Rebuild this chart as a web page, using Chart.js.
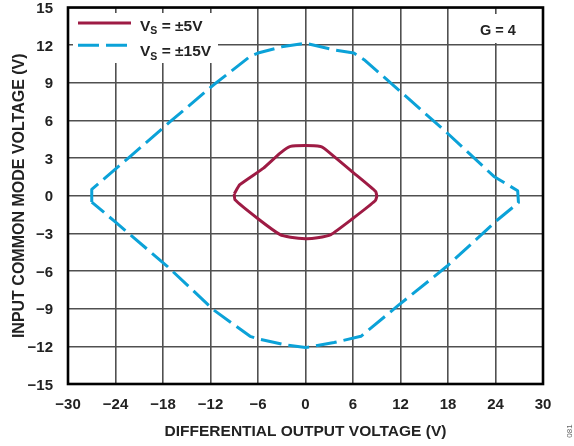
<!DOCTYPE html>
<html><head><meta charset="utf-8">
<script src="https://cdn.jsdelivr.net/npm/chart.js@4"></script>
<style>html,body{margin:0;padding:0;background:#fff;}canvas{display:block;}</style>
</head><body>
<canvas id="c" width="574" height="446"></canvas>
<script>
// ---- data ----
const xTicks = [-30, -24, -18, -12, -6, 0, 6, 12, 18, 24, 30];
const xTickLabels = ['\u221230', '\u221224', '\u221218', '\u221212', '\u22126', '0', '6', '12', '18', '24', '30'];
const yTicks = [-15, -12, -9, -6, -3, 0, 3, 6, 9, 12, 15];
const yTickLabels = ['\u221215', '\u221212', '\u22129', '\u22126', '\u22123', '0', '3', '6', '9', '12', '15'];

const seriesNames = ['\u00b15V', '\u00b115V'];

// VS = ±15V (closed contour)
const vs15X = [-27.0, -27.0, -22.2, -17.1, -11.6, -7.0, -6.0, -2.8, 0, 3.6, 6.1, 7.4, 12.0, 17.9, 23.8, 26.8, 26.9, 24.2, 17.9, 11.6, 7.0, 3.6, 0, -2.4, -6.0, -7.0, -11.6, -17.5, -24.1, -27.0];
const vs15Y = [-0.5, 0.5, 3.1, 5.9, 8.84, 11.1, 11.37, 11.9, 12.15, 11.63, 11.37, 10.84, 8.3, 5.0, 1.54, 0.4, -0.55, -1.95, -5.6, -8.8, -11.2, -11.7, -12.1, -11.9, -11.4, -11.2, -9.1, -5.6, -2.05, -0.5];

// VS = ±5V (closed contour)
const vs5X = [-9.0, -8.3, -5.3, -3.2, -1.9, 0, 1.9, 2.4, 6.0, 8.86, 9.0, 8.8, 5.9, 3.2, 1.5, 0, -1.9, -3.2, -5.96, -8.9, -9.0];
const vs5Y = [0.15, 0.88, 2.2, 3.4, 3.93, 4.0, 3.93, 3.75, 1.86, 0.34, -0.05, -0.4, -1.85, -3.1, -3.35, -3.42, -3.3, -3.1, -1.85, -0.32, 0.15];

const RED = '#9e1b44';
const BLUE = '#0ba2d8';
const FONT = '"Liberation Sans", Arial, Helvetica, sans-serif';

const toPts = (xs, ys) => xs.map((x, i) => ({x, y: ys[i]}));

const decorPlugin = {
  id: 'decor',
  beforeDatasetsDraw(chart) {
    const {ctx, chartArea: a} = chart;
    ctx.save();
    // legend background boxes
    ctx.fillStyle = '#fff';
    ctx.fillRect(a.left + 5, a.top + 5.5, 145, 50);
    ctx.fillRect(a.right - 67, a.top + 6.5, 44, 29);
    // legend samples
    ctx.lineWidth = 3;
    ctx.lineCap = 'butt';
    ctx.strokeStyle = RED;
    ctx.beginPath(); ctx.moveTo(a.left + 10, a.top + 15.5); ctx.lineTo(a.left + 63, a.top + 15.5); ctx.stroke();
    ctx.strokeStyle = BLUE;
    ctx.setLineDash([21, 7]);
    ctx.beginPath(); ctx.moveTo(a.left + 10, a.top + 37.8); ctx.lineTo(a.left + 60, a.top + 37.8); ctx.stroke();
    ctx.setLineDash([]);
    // legend text with subscript
    ctx.fillStyle = '#222';
    ctx.textBaseline = 'alphabetic';
    ctx.textAlign = 'left';
    const rows = [a.top + 23.2, a.top + 48.8];
    rows.forEach((by, i) => {
      let x = a.left + 72;
      ctx.font = 'bold 15.5px ' + FONT;
      ctx.fillText('V', x, by);
      x += ctx.measureText('V').width;
      ctx.font = 'bold 10.5px ' + FONT;
      ctx.fillText('S', x, by + 3.5);
      x += ctx.measureText('S').width;
      ctx.font = 'bold 15.5px ' + FONT;
      ctx.fillText(' = ' + seriesNames[i], x, by);
    });
    // G = 4
    ctx.font = 'bold 14.5px ' + FONT;
    ctx.textAlign = 'center';
    ctx.fillText('G = 4', a.right - 45, a.top + 27.2);
    ctx.restore();
  },
  afterDatasetsDraw(chart) {
    const {ctx, chartArea: a} = chart;
    ctx.save();
    ctx.strokeStyle = '#000';
    ctx.lineWidth = 2.6;
    ctx.strokeRect(a.left, a.top, a.right - a.left, a.bottom - a.top);
    // figure id
    ctx.translate(chart.width - 4, chart.height - 15);
    ctx.rotate(-Math.PI / 2);
    ctx.font = '8px ' + FONT;
    ctx.fillStyle = '#666';
    ctx.textAlign = 'center';
    ctx.textBaseline = 'middle';
    ctx.fillText('081', 0, 0);
    ctx.restore();
  }
};

new Chart(document.getElementById('c'), {
  type: 'scatter',
  data: {
    datasets: [
      {
        label: 'VS = ' + seriesNames[0],
        data: toPts(vs5X, vs5Y),
        showLine: true,
        borderColor: RED,
        borderWidth: 3,
        pointRadius: 0,
        tension: 0.15,
        borderJoinStyle: 'round',
        fill: false
      },
      {
        label: 'VS = ' + seriesNames[1],
        data: toPts(vs15X, vs15Y),
        showLine: true,
        borderColor: BLUE,
        borderWidth: 3,
        borderDash: [21, 7],
        pointRadius: 0,
        tension: 0,
        borderJoinStyle: 'round',
        fill: false
      }
    ]
  },
  options: {
    responsive: false,
    devicePixelRatio: 1,
    animation: false,
    layout: {padding: {top: 7.5, right: 31, left: 0, bottom: 0}},
    plugins: {legend: {display: false}, tooltip: {enabled: false}},
    scales: {
      x: {
        type: 'linear',
        min: -30, max: 30,
        afterBuildTicks: s => { s.ticks = xTicks.map(v => ({value: v})); },
        afterFit: s => { s.height = 62; s.paddingLeft = 0; s.paddingRight = 0; },
        grid: {color: '#505050', lineWidth: 1.6, drawTicks: false},
        border: {display: false},
        ticks: {
          callback: (v, i) => xTickLabels[i],
          color: '#222',
          font: {family: FONT, size: 15, weight: 'bold', lineHeight: 1.2},
          padding: 12,
          maxRotation: 0,
          autoSkip: false
        },
        title: {
          display: true,
          text: 'DIFFERENTIAL OUTPUT VOLTAGE (V)',
          color: '#222',
          font: {family: FONT, size: 15.5, weight: 'bold', lineHeight: 1.2},
          padding: {top: 0, bottom: 4.7}
        }
      },
      y: {
        type: 'linear',
        min: -15, max: 15,
        afterBuildTicks: s => { s.ticks = yTicks.map(v => ({value: v})); },
        afterFit: s => { s.width = 68; s.paddingTop = 0; s.paddingBottom = 0; },
        grid: {color: '#505050', lineWidth: 1.6, drawTicks: false},
        border: {display: false},
        ticks: {
          callback: (v, i) => yTickLabels[i],
          color: '#222',
          font: {family: FONT, size: 15, weight: 'bold', lineHeight: 1},
          padding: 15,
          labelOffset: 1.5,
          autoSkip: false
        },
        title: {
          display: true,
          text: 'INPUT COMMON MODE VOLTAGE (V)',
          color: '#222',
          font: {family: FONT, size: 16, weight: 'bold', lineHeight: 1.2},
          padding: {top: 10.4, bottom: 0}
        }
      }
    }
  },
  plugins: [decorPlugin]
});
</script>
</body></html>
